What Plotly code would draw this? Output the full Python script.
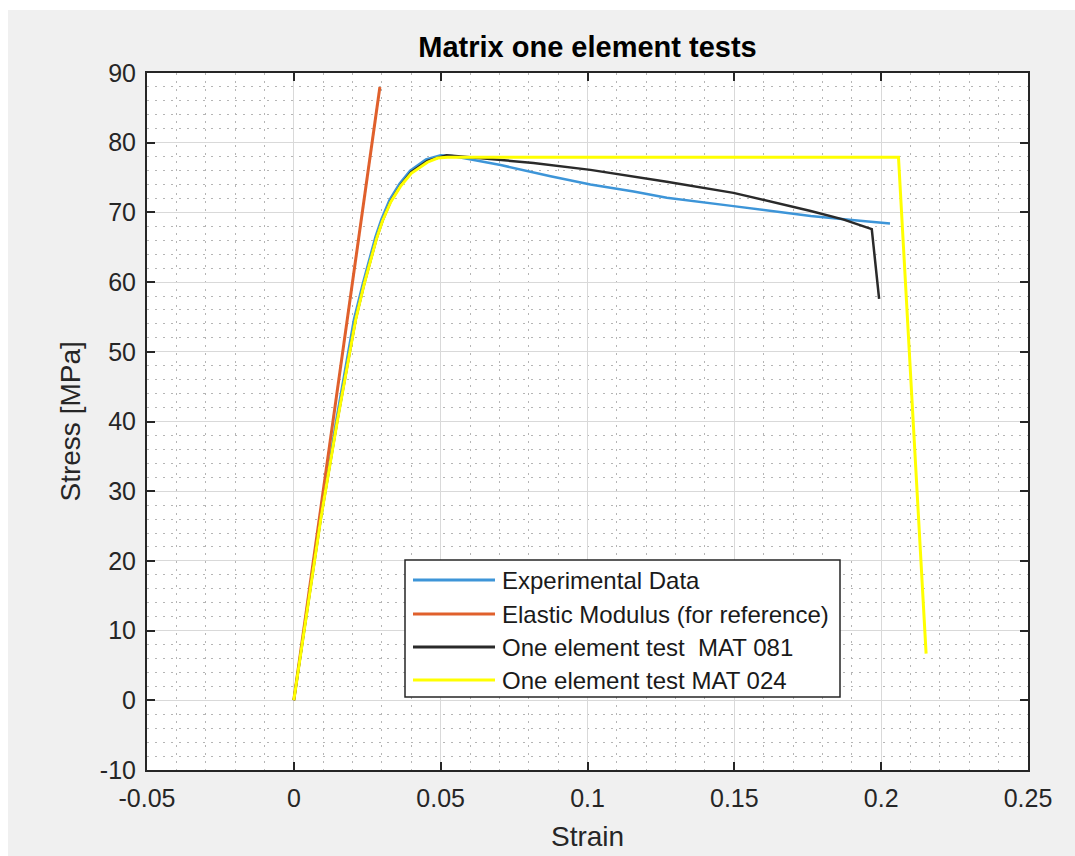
import plotly.graph_objects as go

# ---------------- data ----------------
exp_strain = [0, 0.0090, 0.0145, 0.0205, 0.0235, 0.0257, 0.0278, 0.0298, 0.0326, 0.0360, 0.0396,
              0.0450, 0.0500, 0.0540, 0.0600, 0.0704, 0.0874, 0.1010, 0.1157, 0.1270, 0.1497,
              0.1760, 0.1900, 0.2030]
exp_stress = [0, 26.1, 40.3, 54.7, 59.8, 63.4, 66.5, 69.0, 71.8, 74.1, 76.0,
              77.6, 78.2, 78.1, 77.6, 76.8, 75.2, 74.0, 73.0, 72.1, 70.9,
              69.5, 68.9, 68.4]

mod_strain = [0, 0.0293]
mod_stress = [0, 88.0]

m081_strain = [0, 0.0092, 0.0149, 0.0211, 0.0240, 0.0262, 0.0282, 0.0302, 0.0330, 0.0364, 0.0400,
               0.0455, 0.0520, 0.0600, 0.0704, 0.0816, 0.1010, 0.1157, 0.1270, 0.1497, 0.1760,
               0.1870, 0.1968, 0.1993]
m081_stress = [0, 26.1, 40.3, 54.7, 59.8, 63.3, 66.3, 68.8, 71.6, 73.9, 75.8,
               77.4, 78.2, 77.9, 77.5, 77.1, 76.1, 75.2, 74.4, 72.8, 70.2,
               69.0, 67.6, 57.6]

m024_strain = [0, 0.0092, 0.0149, 0.0211, 0.0240, 0.0262, 0.0282, 0.0302, 0.0330, 0.0364, 0.0400,
               0.0455, 0.0490, 0.0523, 0.2059, 0.2153]
m024_stress = [0, 26.1, 40.3, 54.7, 59.8, 63.3, 66.3, 68.8, 71.5, 73.8, 75.6,
               77.2, 77.8, 77.9, 77.9, 6.7]

series_names = ["Experimental Data", "Elastic Modulus (for reference)",
                "One element test  MAT 081", "One element test MAT 024"]
series_colors = ["#3d95d8", "#e0602c", "#2a2a2a", "#ffff00"]
series_widths = [2.5, 3, 2.5, 3]

x_tickvals = [-0.05, 0, 0.05, 0.1, 0.15, 0.2, 0.25]
x_ticktext = ["-0.05", "0", "0.05", "0.1", "0.15", "0.2", "0.25"]
y_tickvals = [-10, 0, 10, 20, 30, 40, 50, 60, 70, 80, 90]
y_ticktext = ["-10", "0", "10", "20", "30", "40", "50", "60", "70", "80", "90"]

# ---------------- figure ----------------
W, H = 1075, 856
L, R, T, B = 147, 1028, 73, 770  # plot area pixel box

def px(xp):
    return (xp - L) / (R - L)

def py(yp):
    return (B - yp) / (B - T)

fig = go.Figure()
xs = [exp_strain, mod_strain, m081_strain, m024_strain]
ys = [exp_stress, mod_stress, m081_stress, m024_stress]
for x, y, n, c, w in zip(xs, ys, series_names, series_colors, series_widths):
    fig.add_trace(go.Scatter(x=x, y=y, mode="lines", name=n,
                             line=dict(color=c, width=w), showlegend=False))

font_family = "Liberation Sans, Arial, sans-serif"
text_color = "#262626"

axis_common = dict(
    showline=True, linecolor="#262626", linewidth=2, mirror="ticks",
    ticks="inside", ticklen=8, tickwidth=1.5, tickcolor="#262626",
    showgrid=True, gridcolor="#d9d9d9", gridwidth=1,
    zeroline=False, automargin=False,
    tickfont=dict(family=font_family, size=25, color=text_color),
)
minor_grid = dict(showgrid=True, griddash="2px,6px", gridcolor="#b5b5b5", gridwidth=1, ticks="")

fig.update_xaxes(
    range=[-0.05, 0.25], tickmode="array", tickvals=x_tickvals, ticktext=x_ticktext,
    minor=dict(dtick=0.01, **minor_grid),
    ticklabelstandoff=5,
    **axis_common,
)
fig.update_yaxes(
    range=[-10, 90], tickmode="array", tickvals=y_tickvals, ticktext=y_ticktext,
    minor=dict(dtick=2, **minor_grid),
    ticklabelstandoff=4,
    **axis_common,
)

shapes = [
    # white strips of the screenshot border
    dict(type="rect", xref="paper", yref="paper", x0=px(0), x1=px(W), y0=py(0), y1=py(10),
         fillcolor="white", line=dict(width=0), layer="below"),
    dict(type="rect", xref="paper", yref="paper", x0=px(0), x1=px(8), y0=py(H), y1=py(0),
         fillcolor="white", line=dict(width=0), layer="below"),
    # legend box
    dict(type="rect", xref="paper", yref="paper", x0=px(405), x1=px(840), y0=py(697), y1=py(560),
         fillcolor="white", line=dict(color="#262626", width=1.5), layer="above"),
]
annotations = [
    dict(xref="paper", yref="paper", x=px((L + R) / 2), y=py(836), text="Strain",
         showarrow=False, xanchor="center", yanchor="middle",
         font=dict(family=font_family, size=28, color=text_color)),
    dict(xref="paper", yref="paper", x=px(70), y=py((T + B) / 2), text="Stress [MPa]",
         showarrow=False, xanchor="center", yanchor="middle", textangle=-90,
         font=dict(family=font_family, size=28, color=text_color)),
]
row_y = [580, 614, 647, 680]
for yy, n, c in zip(row_y, series_names, series_colors):
    shapes.append(dict(type="line", xref="paper", yref="paper", x0=px(413), x1=px(495),
                       y0=py(yy), y1=py(yy), line=dict(color=c, width=3), layer="above"))
    annotations.append(dict(xref="paper", yref="paper", x=px(500), y=py(yy), text=n,
                            showarrow=False, xanchor="left", yanchor="middle",
                            font=dict(family=font_family, size=24, color="#1a1a1a")))

fig.update_layout(
    width=W, height=H,
    margin=dict(l=L, r=W - R, t=T, b=H - B, pad=0),
    paper_bgcolor="#f0f0f0", plot_bgcolor="white",
    title=dict(text="<b>Matrix one element tests</b>", x=px((L + R) / 2), xref="paper",
               xanchor="center", y=1 - 47 / H, yref="container", yanchor="middle",
               font=dict(family=font_family, size=29, color="#000000")),
    shapes=shapes, annotations=annotations, showlegend=False,
)

fig.write_html("out.html")
